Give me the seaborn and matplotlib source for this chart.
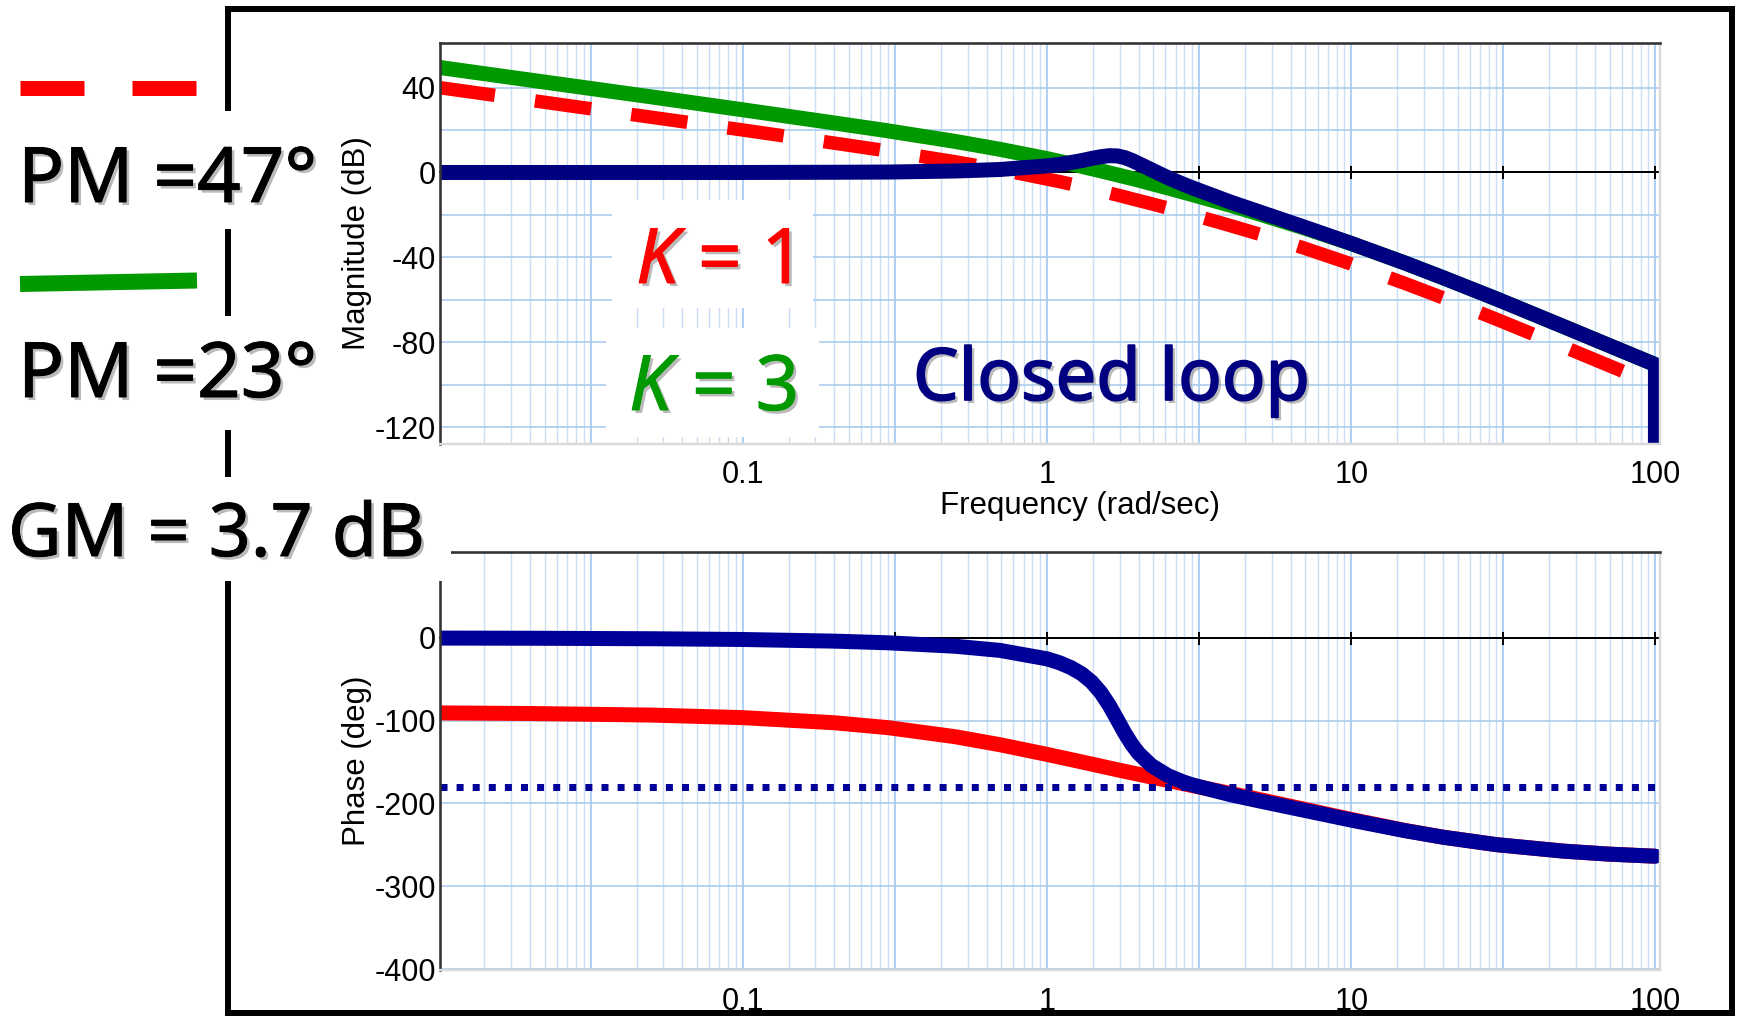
import numpy as np
import pandas as pd
import matplotlib
matplotlib.use("Agg")
import matplotlib.pyplot as plt
import matplotlib.ticker as mticker
import matplotlib.patheffects as pe
from matplotlib.patches import Rectangle
from matplotlib.lines import Line2D
import seaborn as sns

# ---------------------------------------------------------------- data
# frequency samples (rad/sec)
freq = [0.01, 0.02, 0.05, 0.1, 0.2, 0.3, 0.5, 0.7, 1.0, 1.1, 1.2, 1.3, 1.4,
        1.5, 1.6, 1.7, 1.8, 1.9, 2.0, 2.2, 2.5, 2.8, 3.0, 4.0, 5.0, 7.0, 10.0,
        15.0, 20.0, 30.0, 50.0, 70.0, 100.0]

# open-loop magnitude (dB), K = 1
mag_k1 = [40.0, 34.0, 26.0, 20.0, 13.8, 10.1, 5.0, 1.4, -3.1, -4.3, -5.5,
          -6.7, -7.7, -8.7, -9.7, -10.6, -11.5, -12.4, -13.2, -14.7, -16.8,
          -18.7, -19.9, -25.0, -29.1, -35.6, -43.1, -52.2, -59.0, -69.1,
          -82.1, -90.8, -100.0]

# open-loop magnitude (dB), K = 3
mag_k3 = [49.5, 43.5, 35.6, 29.5, 23.3, 19.6, 14.6, 10.9, 6.5, 5.2, 4.0, 2.9,
          1.8, 0.8, -0.2, -1.1, -2.0, -2.8, -3.6, -5.2, -7.3, -9.2, -10.4,
          -15.4, -19.6, -26.1, -33.5, -42.6, -49.5, -59.5, -72.6, -81.3, -90.5]

# closed-loop magnitude (dB), K = 3 -- the trace drops off the bottom at 100 rad/s
mag_closed = [0.0, 0.0, 0.0, 0.0, 0.1, 0.2, 0.7, 1.4, 3.1, 3.8, 4.7, 5.6, 6.6,
              7.4, 7.9, 7.8, 7.0, 5.7, 4.2, 1.3, -2.5, -5.5, -7.2, -13.9,
              -18.6, -25.7, -33.4, -42.6, -49.5, -59.5, -72.6, -81.3, -90.5]
mag_closed_tail_freq = [100.0]
mag_closed_tail_db = [-135.0]

# open-loop phase (deg)
phase_open = [-90.6, -91.3, -93.2, -96.3, -102.5, -108.4, -119.4, -129.0,
              -140.7, -144.0, -147.0, -149.8, -152.4, -154.8, -157.1, -159.2,
              -161.2, -163.0, -164.7, -168.0, -172.2, -176.0, -178.3, -187.8,
              -195.3, -206.9, -219.3, -232.5, -240.6, -249.7, -257.5, -261.1,
              -263.7]

# closed-loop phase (deg)
phase_closed = [-0.2, -0.4, -1.0, -1.9, -3.9, -5.9, -10.1, -15.1, -25.3,
                -30.1, -36.0, -43.4, -53.1, -65.7, -81.2, -98.4, -114.9,
                -128.7, -139.4, -154.0, -166.4, -173.9, -177.5, -189.3,
                -197.0, -208.2, -220.1, -232.8, -240.7, -249.7, -257.6,
                -261.1, -263.7]

critical_phase = -180

freq_tick_values = [0.1, 1, 10, 100]
freq_tick_labels = ["0.1", "1", "10", "100"]
mag_grid = list(range(-120, 41, 20))
mag_tick_labels = [40, 0, -40, -80, -120]
phase_grid = [0, -100, -200, -300, -400]
phase_tick_labels = [0, -100, -200, -300, -400]

# ---------------------------------------------------------------- style
W, H = 1738, 1016
PT = 0.72          # points per pixel at 100 dpi
RED = "#ff0000"
GREEN = "#009900"
NAVY = "#000080"
NAVY_PH = "#000099"

sns.set_theme(style="white")
plt.rcParams["font.family"] = ["Liberation Sans", "DejaVu Sans"]

fig = plt.figure(figsize=(W / 100, H / 100), dpi=100)
fig.patch.set_facecolor("white")


def fig_box(x0, y0, x1, y1):
    """Pixel box (top-left origin) -> figure fraction [l, b, w, h]."""
    return [x0 / W, 1 - y1 / H, (x1 - x0) / W, (y1 - y0) / H]


ax_mag = fig.add_axes(fig_box(440, 42.7, 1660, 443.5))
ax_ph = fig.add_axes(fig_box(440, 552.3, 1660, 969.5))

half_decades = [10 ** (n / 2) for n in range(-4, 5)]
minor_lines = [10 ** (n / 2) * np.sqrt(k) for n in range(-4, 4) for k in range(2, 10)]


def freq_fmt(v, pos):
    for f, s in zip(freq_tick_values, freq_tick_labels):
        if abs(np.log10(v) - np.log10(f)) < 1e-6:
            return s
    return ""


def setup(ax, ylim, ygrid, ylabels, ylabel, xpad):
    ax.set_xscale("log")
    ax.set_xlim(0.0101, 103.5)
    ax.set_ylim(*ylim)
    ax.set_facecolor("white")
    ax.xaxis.set_major_locator(mticker.FixedLocator(half_decades))
    ax.xaxis.set_minor_locator(mticker.FixedLocator(minor_lines))
    ax.xaxis.set_major_formatter(mticker.FuncFormatter(freq_fmt))
    ax.xaxis.set_minor_formatter(mticker.NullFormatter())
    ax.yaxis.set_major_locator(mticker.FixedLocator(ygrid))
    ax.yaxis.set_major_formatter(mticker.FuncFormatter(
        lambda v, p: f"{v:.0f}" if int(round(v)) in ylabels else ""))
    ax.set_axisbelow(True)
    ax.grid(True, which="major", axis="x", color="#a4c7ee", lw=1.7 * PT)
    ax.grid(True, which="minor", axis="x", color="#cbdef5", lw=1.4 * PT)
    ax.grid(True, which="major", axis="y", color="#a9cbf0", lw=1.6 * PT)
    ax.tick_params(which="both", length=0)
    ax.tick_params(axis="y", labelsize=22, pad=3, labelcolor="black")
    ax.tick_params(axis="x", labelsize=22, pad=xpad, labelcolor="black")
    for side in ("top", "left"):
        ax.spines[side].set_color("#333333")
        ax.spines[side].set_linewidth(2.6 * PT)
    for side in ("right", "bottom"):
        ax.spines[side].set_color("#d9d9d9")
        ax.spines[side].set_linewidth(2.4 * PT)
    ax.set_ylabel(ylabel, fontsize=22.5, labelpad=2, color="black")

    # black reference axis through zero with half-decade tick marks
    frac = (0 - ylim[0]) / (ylim[1] - ylim[0])
    sec = ax.secondary_xaxis(frac)
    sec.set_xticks(half_decades)
    sec.tick_params(which="major", direction="inout", length=13 * PT,
                    width=2 * PT, color="black", top=True, bottom=False,
                    labeltop=False, labelbottom=False)
    sec.tick_params(which="minor", length=0, labeltop=False, labelbottom=False)
    for s in sec.spines.values():
        s.set_color("black")
        s.set_linewidth(2 * PT)
    sec.set_zorder(1.5)
    return sec


ax_mag.set_xscale("log")
ax_ph.set_xscale("log")
setup(ax_mag, (-127.6, 61.1), mag_grid, mag_tick_labels, "Magnitude (dB)", 12)
setup(ax_ph, (-400.5, 103.4), phase_grid, phase_tick_labels, "Phase (deg)", 12.5)
ax_mag.set_xlabel("Frequency (rad/sec)", fontsize=22.5, color="black")
ax_mag.xaxis.set_label_coords(0.5246, -0.119)

# ---------------------------------------------------------------- curves
mag_df = pd.DataFrame({"freq": freq, "k1": mag_k1, "k3": mag_k3})
cl_df = pd.DataFrame({"freq": freq + mag_closed_tail_freq,
                      "db": mag_closed + mag_closed_tail_db})
ph_df = pd.DataFrame({"freq": freq, "open": phase_open, "closed": phase_closed})

sns.lineplot(data=mag_df, x="freq", y="k1", ax=ax_mag, color=RED,
             lw=13.5 * PT, sort=False, estimator=None, legend=False)
ax_mag.lines[-1].set_dashes([4.2, 3.0])
sns.lineplot(data=mag_df, x="freq", y="k3", ax=ax_mag, color=GREEN,
             lw=15 * PT, sort=False, estimator=None, legend=False,
             solid_capstyle="butt")
sns.lineplot(data=cl_df, x="freq", y="db", ax=ax_mag, color=NAVY,
             lw=15 * PT, sort=False, estimator=None, legend=False,
             solid_capstyle="round", solid_joinstyle="round")

sns.lineplot(data=ph_df, x="freq", y="open", ax=ax_ph, color=RED,
             lw=15 * PT, sort=False, estimator=None, legend=False,
             solid_capstyle="butt")
ax_ph.axhline(critical_phase, color=NAVY_PH, lw=7 * PT,
              linestyle=(0, (1, 1.3)), zorder=2.2)
sns.lineplot(data=ph_df, x="freq", y="closed", ax=ax_ph, color=NAVY_PH,
             lw=15 * PT, sort=False, estimator=None, legend=False,
             solid_capstyle="round", solid_joinstyle="round", zorder=2.5)

# seaborn fills in axis labels from the column names; restore the real ones
ax_mag.set_ylabel("Magnitude (dB)")
ax_ph.set_ylabel("Phase (deg)")
ax_ph.set_xlabel("")
ax_mag.xaxis.label.set_text("Frequency (rad/sec)")
ax_mag.xaxis.set_label_coords(0.5246, -0.119)

# ---------------------------------------------------------------- slide furniture
fig.add_artist(Rectangle((228 / W, 1 - 1013 / H), (1731.5 - 228) / W,
                         (1013 - 9) / H, transform=fig.transFigure,
                         fill=False, edgecolor="black", lw=6 * PT, zorder=1))

for (x0, y0, x1, y1) in [(6, 111, 322, 229), (6, 316, 322, 430),
                         (2, 477, 451, 581), (611.7, 200, 813.3, 308),
                         (605.7, 328, 819, 436.7)]:
    b = fig_box(x0, y0, x1, y1)
    fig.add_artist(Rectangle((b[0], b[1]), b[2], b[3], transform=fig.transFigure,
                             facecolor="white", edgecolor="none", zorder=2))

# legend swatches
fig.add_artist(Line2D([20 / W, 197 / W], [1 - 88 / H, 1 - 88 / H],
                      transform=fig.transFigure, color=RED, lw=15 * PT,
                      dashes=[64 / 15, 48 / 15], dash_capstyle="butt", zorder=3))
fig.add_artist(Line2D([20 / W, 197 / W], [1 - 284 / H, 1 - 280.5 / H],
                      transform=fig.transFigure, color=GREEN, lw=16 * PT,
                      solid_capstyle="butt", zorder=3))


def hand_text(x, y, s, color, size, stroke=0.7, **kw):
    fig.text(x / W, 1 - y / H, s, color=color, fontsize=size, ha="left",
             va="baseline", family=["Noto Sans", "DejaVu Sans"], zorder=5,
             path_effects=[pe.SimplePatchShadow(offset=(2.2, -2.2),
                                                shadow_rgbFace="#8c8c8c",
                                                alpha=0.6),
                           pe.Stroke(linewidth=stroke, foreground=color),
                           pe.Normal()], **kw)


hand_text(18, 202, "PM =47°", "black", 55)
hand_text(18, 397, "PM =23°", "black", 55)
hand_text(8, 556, "GM = 3.7 dB", "black", 53)
hand_text(636, 283, "K", RED, 55, style="italic")
hand_text(698, 283, "= 1", RED, 55)
hand_text(629, 410, "K", GREEN, 55, style="italic")
hand_text(692, 410, "= 3", GREEN, 55)
hand_text(913, 400, "Closed loop", NAVY, 52, stroke=1.2, weight="bold")

fig.savefig("out.png", dpi=100, facecolor="white")
